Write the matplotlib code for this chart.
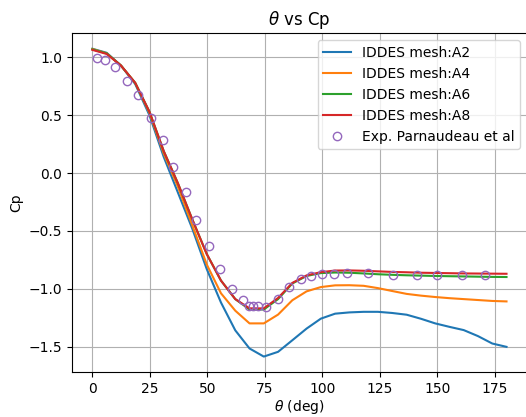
import matplotlib
matplotlib.use("Agg")
import matplotlib.pyplot as plt

# surface angle (deg) of the simulation wall points
theta = [0, 6.2, 12.4, 18.6, 24.8, 31.0, 37.2, 43.4, 49.7, 55.9, 62.1, 68.3, 74.5, 80.7,
         86.9, 93.1, 99.3, 105.5, 111.7, 117.9, 124.1, 130.3, 136.6, 142.8, 149.0, 155.2,
         161.4, 167.6, 173.8, 180.0]

cp_a2 = [1.075, 1.04, 0.93, 0.77, 0.50, 0.14, -0.17, -0.48, -0.83, -1.12, -1.36, -1.517,
         -1.587, -1.546, -1.446, -1.345, -1.259, -1.216, -1.205, -1.20, -1.20, -1.21, -1.225,
         -1.26, -1.30, -1.33, -1.358, -1.41, -1.474, -1.503]
cp_a4 = [1.073, 1.035, 0.93, 0.78, 0.52, 0.17, -0.12, -0.45, -0.79, -1.04, -1.19, -1.30,
         -1.30, -1.224, -1.10, -1.023, -0.986, -0.971, -0.97, -0.975, -0.995, -1.02, -1.045,
         -1.06, -1.072, -1.082, -1.09, -1.098, -1.106, -1.11]
cp_a6 = [1.07, 1.035, 0.93, 0.78, 0.53, 0.19, -0.09, -0.40, -0.70, -0.93, -1.09, -1.18,
         -1.18, -1.09, -0.955, -0.89, -0.865, -0.86, -0.862, -0.868, -0.875, -0.88, -0.884,
         -0.887, -0.89, -0.892, -0.894, -0.896, -0.898, -0.899]
cp_a8 = [1.065, 1.03, 0.93, 0.78, 0.53, 0.19, -0.09, -0.40, -0.70, -0.93, -1.09, -1.17,
         -1.17, -1.08, -0.95, -0.885, -0.857, -0.843, -0.842, -0.845, -0.85, -0.855, -0.858,
         -0.862, -0.864, -0.866, -0.868, -0.869, -0.87, -0.871]

# experiment (Parnaudeau et al)
theta_exp = [2, 5.5, 10, 15, 20, 25.5, 30.5, 35, 40.5, 45, 50.5, 55.5, 60.5, 65.5, 68, 70,
             72, 75.5, 80.5, 85.5, 90.5, 95, 100, 105, 110.5, 120, 130.5, 141, 150, 160.5, 170.5]
cp_exp = [0.997, 0.977, 0.917, 0.80, 0.672, 0.48, 0.287, 0.054, -0.167, -0.405, -0.632,
          -0.833, -1.0, -1.10, -1.148, -1.148, -1.148, -1.158, -1.086, -0.985, -0.92, -0.89,
          -0.877, -0.877, -0.862, -0.862, -0.879, -0.885, -0.885, -0.885, -0.885]

fig = plt.figure(figsize=(5.26, 4.17), dpi=100)
# the original figure is slightly cropped on the right, axes runs past the edge
ax = fig.add_axes([0.1363, 0.108, 0.866, 0.812])

ax.plot(theta, cp_a2, label='IDDES mesh:A2')
ax.plot(theta, cp_a4, label='IDDES mesh:A4')
ax.plot(theta, cp_a6, label='IDDES mesh:A6')
ax.plot(theta, cp_a8, label='IDDES mesh:A8')
ax.plot(theta_exp, cp_exp, 'o', mfc='none', mec='tab:purple', ms=6,
        label='Exp. Parnaudeau et al')

ax.set_title(r'$\theta$ vs Cp')
ax.set_xlabel(r'$\theta$ (deg)', labelpad=2)
ax.set_ylabel('Cp')
ax.grid(True)
ax.legend(loc='upper right')

fig.savefig('out.png', dpi=100)
